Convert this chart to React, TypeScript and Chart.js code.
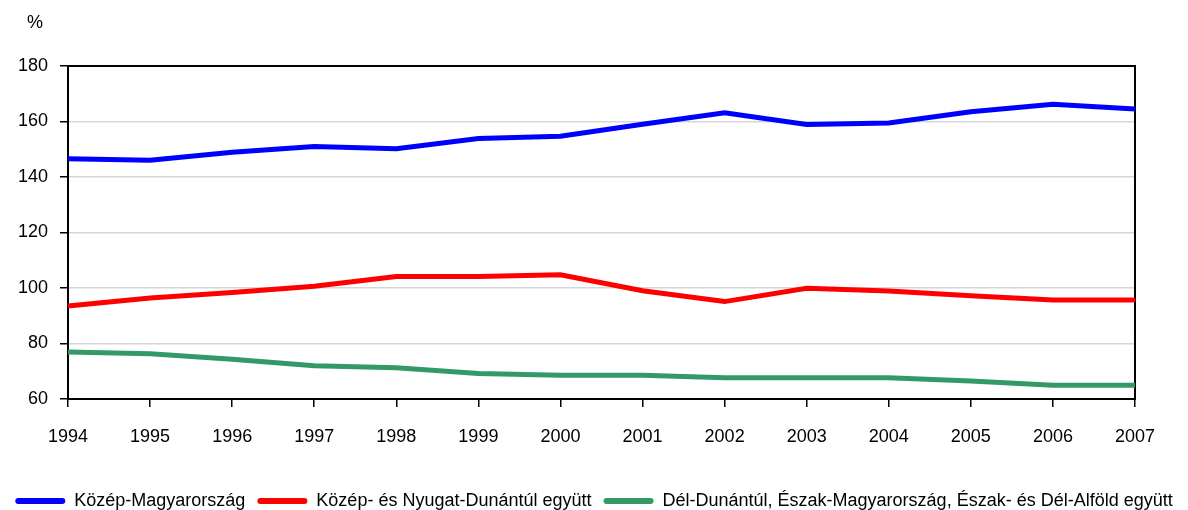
import React, { useEffect, useRef } from "react";
import { Chart, registerables } from "chart.js";

Chart.register(...registerables);

const years = ["1994", "1995", "1996", "1997", "1998", "1999", "2000", "2001", "2002", "2003", "2004", "2005", "2006", "2007"];
const kozepMagyarorszag = [146.6, 146.0, 148.9, 151.0, 150.2, 153.9, 154.7, 159.0, 163.1, 158.9, 159.5, 163.5, 166.2, 164.5];
const kozepNyugatDunantul = [93.5, 96.4, 98.4, 100.6, 104.1, 104.1, 104.8, 99.0, 95.1, 99.9, 98.9, 97.2, 95.7, 95.7];
const delEszakAlfold = [76.9, 76.3, 74.3, 72.0, 71.3, 69.2, 68.6, 68.6, 67.7, 67.7, 67.7, 66.5, 65.0, 65.0];
const seriesNames = [
  "Közép-Magyarország",
  "Közép- és Nyugat-Dunántúl együtt",
  "Dél-Dunántúl, Észak-Magyarország, Észak- és Dél-Alföld együtt",
];
const unitLabel = "%";

const FONT = "'Liberation Sans', Arial, sans-serif";

const framePlugin = {
  id: "frame",
  afterLayout(chart: any) {
    const lg = chart.legend;
    if (lg) {
      lg.top += 10;
      lg.bottom += 10;
    }
  },
  beforeDatasetsDraw(chart: any) {
    const { ctx, chartArea: a } = chart;
    ctx.save();
    ctx.strokeStyle = "#000";
    ctx.lineWidth = 2;
    ctx.strokeRect(a.left, a.top, a.right - a.left, a.bottom - a.top);
    ctx.restore();
  },
  afterDraw(chart: any) {
    const { ctx, chartArea: a } = chart;
    ctx.save();
    ctx.fillStyle = "#000";
    ctx.font = `18px ${FONT}`;
    ctx.textAlign = "center";
    ctx.textBaseline = "middle";
    ctx.fillText(unitLabel, a.left - 33, a.top - 43);
    ctx.restore();
  },
};

export default function App() {
  const ref = useRef<HTMLCanvasElement | null>(null);
  useEffect(() => {
    if (!ref.current) return;
    const chart = new Chart(ref.current, {
      type: "line",
      data: {
        labels: years,
        datasets: [
          { label: seriesNames[0], data: kozepMagyarorszag, borderColor: "#0000ff", backgroundColor: "#0000ff" },
          { label: seriesNames[1], data: kozepNyugatDunantul, borderColor: "#ff0000", backgroundColor: "#ff0000" },
          { label: seriesNames[2], data: delEszakAlfold, borderColor: "#339966", backgroundColor: "#339966" },
        ].map((d) => ({ ...d, borderWidth: 5, pointRadius: 0, tension: 0, fill: false, yAxisID: "y" })),
      },
      options: {
        animation: false,
        responsive: false,
        layout: { padding: { left: 0, right: 0, top: 66, bottom: 0 } },
        plugins: {
          tooltip: { enabled: false },
          legend: {
            position: "bottom",
            labels: {
              boxWidth: 50,
              boxHeight: 6,
              useBorderRadius: true,
              borderRadius: 3,
              padding: 12,
              color: "#000",
              font: { family: FONT, size: 18 },
              generateLabels: (c: any) =>
                Chart.defaults.plugins.legend.labels.generateLabels(c).map((l: any) => ({ ...l, lineWidth: 0 })),
            },
          },
        },
        scales: {
          x: {
            offset: false,
            grid: { drawOnChartArea: false, drawTicks: true, tickLength: 8, tickColor: "#000", lineWidth: 1.5 },
            border: { display: true, color: "#000", width: 2 },
            ticks: { color: "#000", font: { family: FONT, size: 18 }, padding: 19, maxRotation: 0, autoSkip: false },
            afterFit: (s: any) => { s.height = 71; },
          },
          y: {
            min: 60,
            max: 180,
            grid: { color: "#d6d6d6", lineWidth: 1.5, tickLength: 8, tickColor: "#000" },
            border: { display: true, color: "#000", width: 2 },
            ticks: { stepSize: 20, color: "#000", font: { family: FONT, size: 18 }, padding: 12 },
            afterFit: (s: any) => { s.width = 68; },
          },
          yRight: {
            type: "linear",
            position: "right",
            min: 0,
            max: 1,
            grid: { display: false, drawTicks: false },
            border: { display: false },
            ticks: { display: false },
            afterFit: (s: any) => { s.width = 53; },
          },
        },
      },
      plugins: [framePlugin],
    });
    return () => chart.destroy();
  }, []);
  return (
    <div style={{ position: "absolute", left: 0, top: 0, width: 1188, height: 510 }}>
      <canvas ref={ref} width={1188} height={510} />
    </div>
  );
}
